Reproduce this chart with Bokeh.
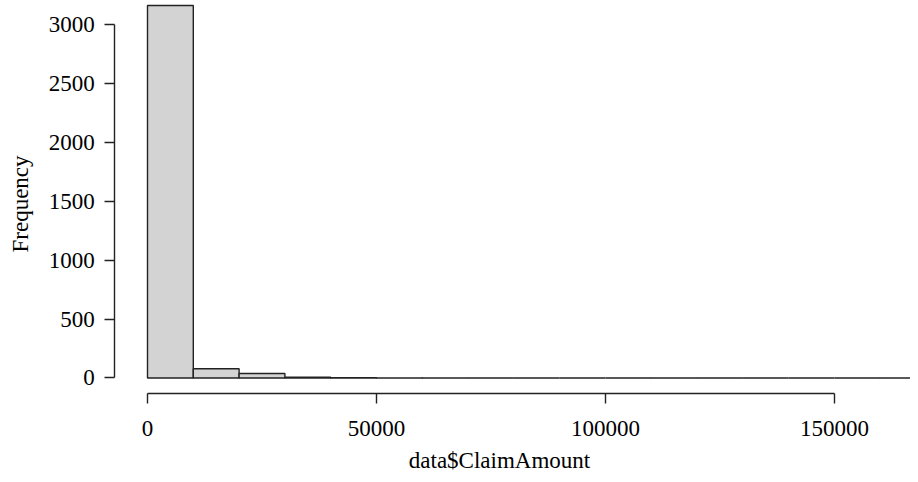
import math
from bokeh.plotting import figure
from bokeh.models import Range1d, FixedTicker, BasicTickFormatter, Label
from bokeh.embed import file_html
from bokeh.resources import INLINE

# histogram data (data$ClaimAmount)
breaks = [0, 10000, 20000, 30000, 40000, 50000, 60000, 70000, 80000, 90000,
          100000, 110000, 120000, 130000, 140000, 150000, 160000, 170000]
counts = [3161, 78, 38, 7, 2, 1, 1, 0, 0, 0, 0, 1, 0, 0, 0, 0, 1]
x_ticks = [0, 50000, 100000, 150000]
y_ticks = [0, 500, 1000, 1500, 2000, 2500, 3000]
x_title = "data$ClaimAmount"
y_title = "Frequency"

FONT = "Liberation Serif"
FS = "23px"
INK = "#222222"

p = figure(width=910, height=474, output_backend="svg", toolbar_location=None,
           x_range=Range1d(-32096, 166594), y_range=Range1d(-819, 3203.7),
           min_border_left=0, min_border_right=0, min_border_top=0,
           min_border_bottom=0)
p.outline_line_color = None
p.grid.visible = False
p.background_fill_color = "white"
p.border_fill_color = "white"

p.quad(left=breaks[:-1], right=breaks[1:], bottom=0, top=counts,
       fill_color="#d3d3d3", line_color=INK, line_width=1.4)

for ax, ticks in ((p.xaxis[0], x_ticks), (p.yaxis[0], y_ticks)):
    ax.ticker = FixedTicker(ticks=ticks)
    ax.formatter = BasicTickFormatter(use_scientific=False)
    ax.bounds = (ticks[0], ticks[-1])
    ax.axis_line_color = INK
    ax.axis_line_width = 1.4
    ax.major_tick_line_color = INK
    ax.major_tick_line_width = 1.4
    ax.major_tick_out = 10
    ax.major_tick_in = 0
    ax.minor_tick_line_color = None
    ax.major_label_text_font = FONT
    ax.major_label_text_font_size = FS
    ax.major_label_text_color = "black"

# R-style detached axes
p.yaxis[0].fixed_location = -7140
p.xaxis[0].fixed_location = -134
p.yaxis[0].major_label_standoff = 10
p.yaxis[0].major_label_orientation = "horizontal"
p.xaxis[0].major_label_standoff = 17

p.add_layout(Label(x=76856, y=-697, text=x_title, text_align="center",
                   text_baseline="middle", text_font=FONT, text_font_size=FS,
                   text_color="black"))
p.add_layout(Label(x=-27729, y=1477, text=y_title, text_align="center",
                   text_baseline="middle", angle=math.pi / 2, text_font=FONT,
                   text_font_size=FS, text_color="black"))

open("out.html", "w").write(file_html(p, INLINE))
